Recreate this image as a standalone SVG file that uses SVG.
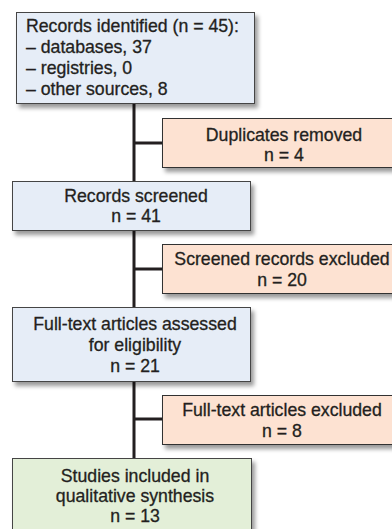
<svg xmlns="http://www.w3.org/2000/svg" width="392" height="529" viewBox="0 0 392 529">
<defs>
<filter id="sh" x="-10%" y="-10%" width="130%" height="140%">
<feDropShadow dx="3" dy="4" stdDeviation="2.2" flood-color="#000" flood-opacity="0.4"/>
</filter>
</defs>
<style>
text{font-family:"Liberation Sans",Arial,sans-serif;font-size:17.7px;fill:#231f20;stroke:#231f20;stroke-width:0.3px;}
.c{text-anchor:middle;}
.blue{fill:#e6edf7;stroke:#444;stroke-width:1;}
.orange{fill:#fde2d2;stroke:#333;stroke-width:1;}
.green{fill:#e3efd8;stroke:#444;stroke-width:1;}
.con{stroke:#231f20;stroke-width:3;fill:none;}
</style>
<rect width="392" height="529" fill="#fff"/>
<g id="connectors">
<line class="con" x1="134" y1="104" x2="134" y2="458"/>
<line class="con" x1="134" y1="143" x2="162" y2="143"/>
<line class="con" x1="134" y1="269" x2="162" y2="269"/>
<line class="con" x1="134" y1="419" x2="162" y2="419"/>
</g>
<g id="identified">
<rect class="blue" x="16.5" y="12.5" width="238" height="91" filter="url(#sh)"/>
<text x="26" y="31.5">Records identified (n = 45):</text>
<text x="26" y="52.5">– databases, 37</text>
<text x="26" y="73.5">– registries, 0</text>
<text x="26" y="94.5">– other sources, 8</text>
</g>
<g id="duplicates">
<rect class="orange" x="162.5" y="118.5" width="250" height="49" filter="url(#sh)"/>
<text class="c" x="284" y="140.5">Duplicates removed</text>
<text class="c" x="284" y="161">n = 4</text>
</g>
<g id="screened">
<rect class="blue" x="12.5" y="181.5" width="238" height="49" filter="url(#sh)"/>
<text class="c" x="136" y="201.5">Records screened</text>
<text class="c" x="136" y="222">n = 41</text>
</g>
<g id="excluded1">
<rect class="orange" x="162.5" y="244.5" width="250" height="49" filter="url(#sh)"/>
<text class="c" x="282" y="264.5">Screened records excluded</text>
<text class="c" x="282" y="285.5">n = 20</text>
</g>
<g id="fulltext">
<rect class="blue" x="12.5" y="307.5" width="238" height="74" filter="url(#sh)"/>
<text class="c" x="135" y="330">Full-text articles assessed</text>
<text class="c" x="135" y="351">for eligibility</text>
<text class="c" x="135" y="372">n = 21</text>
</g>
<g id="excluded2">
<rect class="orange" x="162.5" y="395.5" width="250" height="49" filter="url(#sh)"/>
<text class="c" x="282" y="416">Full-text articles excluded</text>
<text class="c" x="282" y="437">n = 8</text>
</g>
<g id="included">
<rect class="green" x="12.5" y="458.5" width="239" height="80" filter="url(#sh)"/>
<text class="c" x="135" y="482">Studies included in</text>
<text class="c" x="135" y="502">qualitative synthesis</text>
<text class="c" x="135" y="522">n = 13</text>
</g>
</svg>
